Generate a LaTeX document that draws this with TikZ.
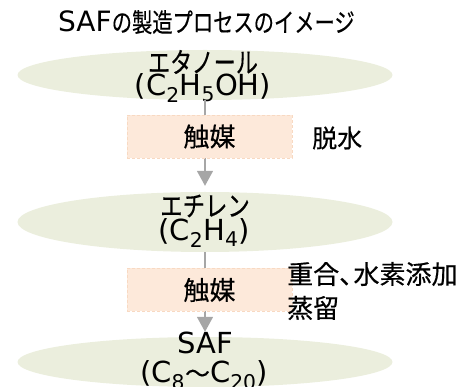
\documentclass[tikz,border=0pt]{standalone}
\usepackage{fontspec}
\usepackage{graphicx}
\newfontfamily\jp[FakeBold=0.4]{Noto Sans CJK JP}
\newfontfamily\lat{DejaVu Sans}
\newcommand\jx[2]{\scalebox{#1}[1]{#2}}
\usetikzlibrary{shapes.geometric,arrows.meta}
\definecolor{ellfill}{HTML}{EBEEDD}
\definecolor{boxfill}{HTML}{FDE9DA}
\definecolor{boxedge}{HTML}{F8D9C2}
\definecolor{arrgray}{HTML}{A6A6A6}
\tikzset{
  stage/.style={ellipse, fill=ellfill, draw=none, minimum width=375pt, inner sep=0pt},
  kana/.style={inner sep=0pt, font=\jp\fontsize{28}{30}\selectfont},
  formula/.style={inner sep=0pt, font=\lat\fontsize{29}{32}\selectfont},
  catbox/.style={rectangle, fill=boxfill, draw=boxedge, dashed, dash pattern=on 3pt off 2pt, line width=0.8pt,
    minimum width=165pt, minimum height=43pt, inner sep=0pt, font=\jp\fontsize{26}{28}\selectfont},
  note/.style={anchor=west, inner sep=0pt},
  flow/.style={draw=arrgray, line width=1.6pt, -{Triangle[width=16pt,length=15pt]}, shorten >=6pt}
}
\begin{document}
\begin{tikzpicture}[x=1pt,y=-1pt]
\useasboundingbox (0,0) rectangle (458,387);
\node[inner sep=0pt, anchor=base west] (title) at (58,32) {{\lat\fontsize{28}{30}\selectfont SAF}{\jp\fontsize{26}{28}\selectfont\jx{0.78}{の製造プロセスのイメージ}}};
\node[stage, minimum height=50pt] (e1) at (205,75) {};
\node[stage, minimum height=60pt] (e2) at (205,222) {};
\node[stage, minimum height=50pt] (e3) at (205,362) {};
\node[kana] (t1a) at (203,62) {\jx{0.79}{エタノール}};
\node[formula] (t1b) at (203,88) {(C\textsubscript{2}H\textsubscript{5}OH)};
\node[kana] (t2a) at (205,206) {\jx{0.8}{エチレン}};
\node[formula] (t2b) at (204,233) {(C\textsubscript{2}H\textsubscript{4})};
\node[formula] (t3a) at (205,343) {SAF};
\node[formula] (t3b) at (204,375) {(C\textsubscript{8}{\jp\fontsize{25}{28}\selectfont ～}C\textsubscript{20})};
\draw[flow] (e1.south) -- (e2.north);
\draw[flow, shorten >=5pt] (e2.south) -- (e3.north);
\node[catbox] (c1) at (209.5,136.5) {触媒};
\node[catbox] (c2) at (209.5,290) {触媒};
\node[note, font=\jp\fontsize{25}{28}\selectfont] (n1) at (312,138) {脱水};
\node[note, font=\jp\fontsize{26}{28}\selectfont] (n2a) at (287,274) {重合\makebox[0.55em][l]{、}水素添加};
\node[note, font=\jp\fontsize{26}{28}\selectfont] (n2b) at (287,308) {蒸留};
\end{tikzpicture}
\end{document}
